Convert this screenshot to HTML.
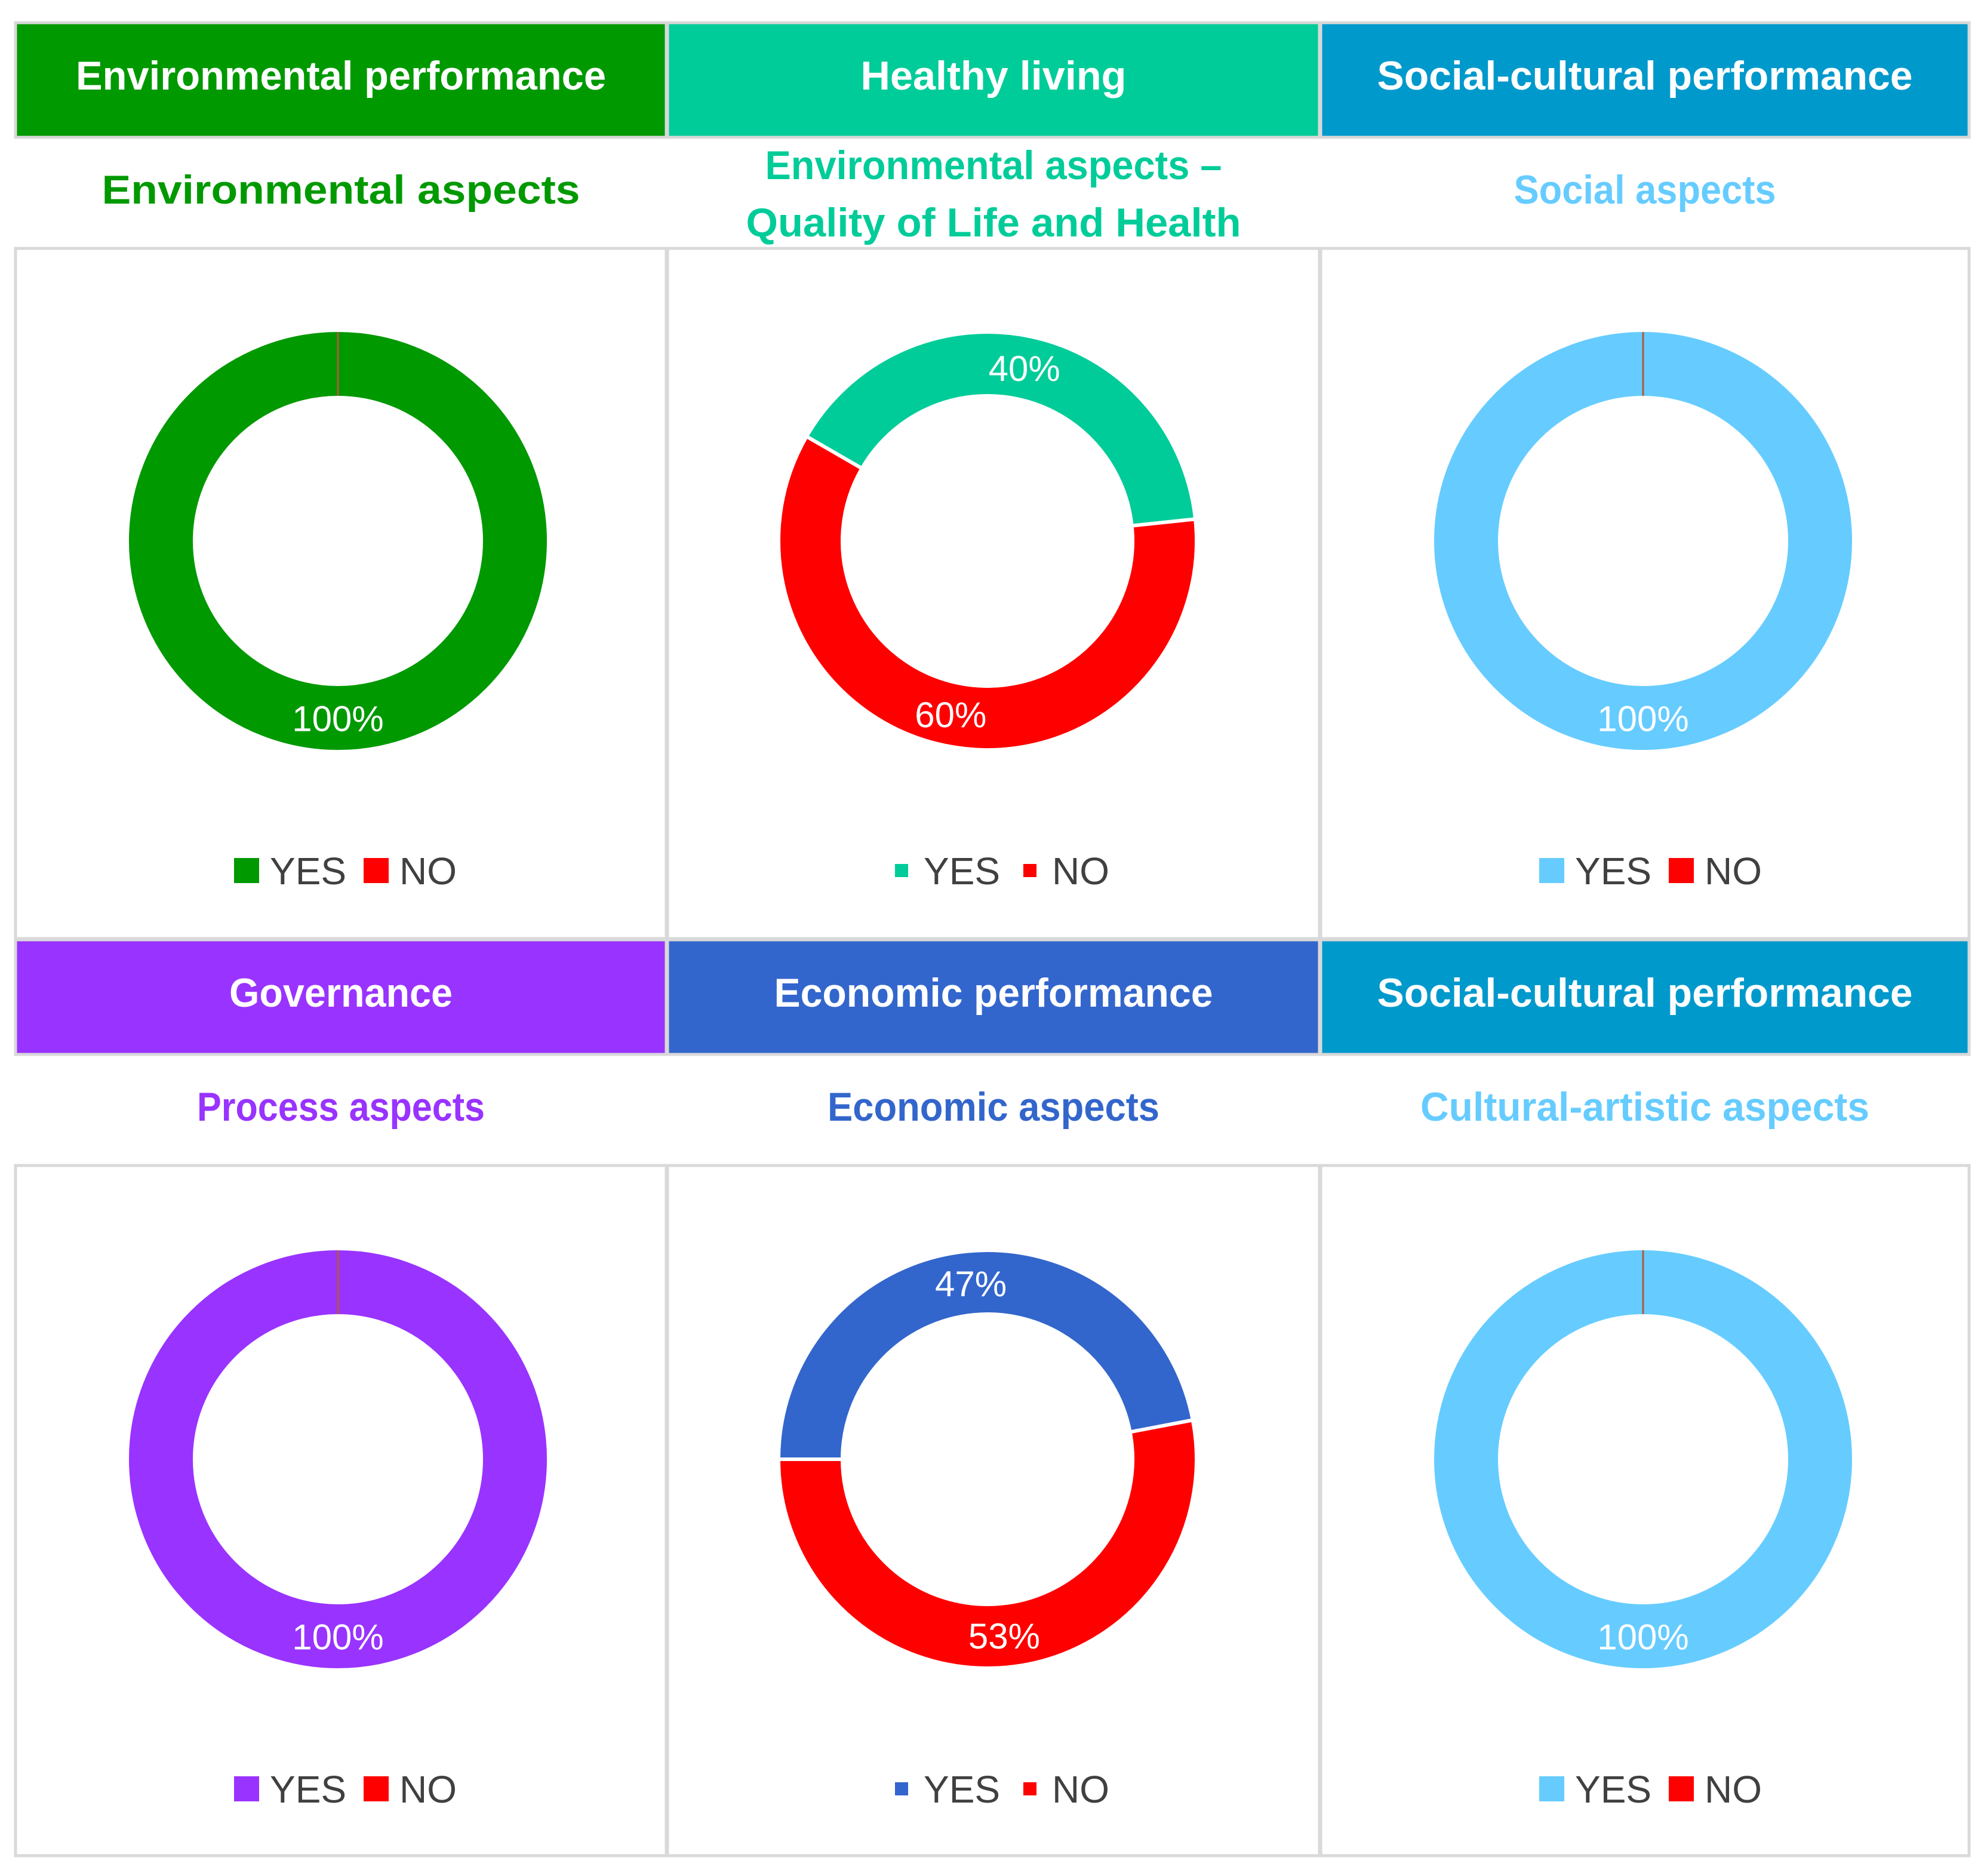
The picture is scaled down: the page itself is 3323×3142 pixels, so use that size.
<!DOCTYPE html>
<html><head><meta charset="utf-8"><style>
html,body{margin:0;padding:0;background:#fff;}
svg{display:block;}
text{font-family:"Liberation Sans",sans-serif;}
</style></head><body>
<svg id="s" width="3323" height="3142" viewBox="0 0 3323 3142" xmlns="http://www.w3.org/2000/svg"></svg>
<script>
// ---- data ----
const headers = ["Environmental performance","Healthy living","Social-cultural performance","Governance","Economic performance","Social-cultural performance"];
const subtitles = [["Environmental aspects"],["Environmental aspects –","Quality of Life and Health"],["Social aspects"],["Process aspects"],["Economic aspects"],["Cultural-artistic aspects"]];
const yesValues = [100,40,100,100,47,100];
const noValues = [0,60,0,0,53,0];
const categories = ["YES","NO"];

// ---- style / layout ----
const headerColors = ["#009900","#00CC99","#0099CC","#9933FF","#3366CC","#0099CC"];
const subColors = ["#009900","#00CC99","#66CCFF","#9933FF","#3366CC","#66CCFF"];
const yesColors = ["#009900","#00CC99","#66CCFF","#9933FF","#3366CC","#66CCFF"];
const startAngles = [0,-60,0,0,-90,0];
const smallLegend = [false,true,false,false,true,false];
const colX = [26,1118,2212];
const colW = [1090,1092,1086];
const rowY = [38,1574];
const hdrW = [[888,445,897],[374,735,897]];
const subW = [[801],[765,829],[439],[482],[556],[752]];
const centersX = [566,1654,2752];
const centersY = [906,2444];
const R = 350, RI = 243;

const S = document.getElementById('s');
const NS = "http://www.w3.org/2000/svg";
function mk(tag, attrs, parent){
  const e = document.createElementNS(NS, tag);
  for (const k in attrs) e.setAttribute(k, attrs[k]);
  (parent||S).appendChild(e);
  return e;
}
function pt(cx,cy,r,a){const t=a*Math.PI/180;return [cx+r*Math.sin(t), cy-r*Math.cos(t)];}
function arcPath(cx,cy,a0,a1){
  const large = (a1-a0)>180?1:0;
  const p0=pt(cx,cy,R,a0),p1=pt(cx,cy,R,a1),q1=pt(cx,cy,RI,a1),q0=pt(cx,cy,RI,a0);
  return `M${p0[0]},${p0[1]} A${R},${R} 0 ${large} 1 ${p1[0]},${p1[1]} L${q1[0]},${q1[1]} A${RI},${RI} 0 ${large} 0 ${q0[0]},${q0[1]} Z`;
}

for (let i=0;i<6;i++){
  const r = Math.floor(i/3), c = i%3;
  const x = colX[c], w = colW[c], y = rowY[r];
  const cx = centersX[c], cy = centersY[r];
  const g = mk('g',{});
  
  
  const hb = mk('rect',{x:x,y:y,width:w,height:192,fill:headerColors[i],stroke:"#d9d9d9","stroke-width":5},g);
  
  
  const ht = mk('text',{x:x+w/2,y:y+112,"text-anchor":"middle","font-size":68,"font-weight":"bold",fill:"#fff",textLength:hdrW[r][c],lengthAdjust:"spacingAndGlyphs"},g);
  ht.textContent = headers[i];
  
  
  const lines = subtitles[i];
  lines.forEach((ln,k)=>{
    const yy = lines.length===1 ? y+303 : y+262+k*96;
    const st = mk('text',{x:x+w/2,y:yy,"text-anchor":"middle","font-size":68,"font-weight":"bold",fill:subColors[i],textLength:subW[i][k],lengthAdjust:"spacingAndGlyphs"},g);
    st.textContent = ln;
    
    
  });
  const cb = mk('rect',{x:x,y:y+378,width:w,height:1156,fill:"#fff",stroke:"#d9d9d9","stroke-width":5},g);
  
  
  const total = yesValues[i]+noValues[i];
  const vals = [yesValues[i], noValues[i]];
  const cols = [yesColors[i], "#FF0000"];
  let a = startAngles[i];
  vals.forEach((v,k)=>{
    const span = v/total*360;
    if (span >= 359.99){
      const ring = mk('circle',{cx:cx,cy:cy,r:(R+RI)/2,fill:"none",stroke:cols[k],"stroke-width":R-RI},g);
      
      
    } else if (span > 0){
      const sl = mk('path',{d:arcPath(cx,cy,a,a+span),fill:cols[k],stroke:"#fff","stroke-width":6},g);
      
      
    } else {
      const p0=pt(cx,cy,R,a), p1=pt(cx,cy,RI,a);
      const zl = mk('line',{x1:p0[0],y1:p0[1],x2:p1[0],y2:p1[1],stroke:"#b05a3a","stroke-width":3},g);
      
      
    }
    if (v>0){
      const mid = a+span/2;
      const lp = pt(cx,cy,(R+RI)/2,mid);
      const lt = mk('text',{x:lp[0],y:lp[1]+22,"text-anchor":"middle","font-size":60,fill:"#fff"},g);
      lt.textContent = v+"%";
      
      
    }
    a += span;
  });
  const ly = r===0 ? 1458 : 2996;
  const sq = smallLegend[i] ? 22 : 42;
  const lx = smallLegend[i] ? cx-155 : cx-174;
  const leg = mk('g',{},g);
  
  
  const offs = smallLegend[i] ? [0,215] : [0,217];
  categories.forEach((cat,k)=>{
    const ex = lx+offs[k];
    const sw = mk('rect',{x:ex,y:ly-sq/2,width:sq,height:sq,fill:cols[k]},leg);
    
    
    const tx = mk('text',{x:ex+sq+(smallLegend[i]?26:18),y:ly+23,"font-size":64,fill:"#404040"},leg);
    tx.textContent = cat;
    
    
  });
}
</script>
</body></html>
